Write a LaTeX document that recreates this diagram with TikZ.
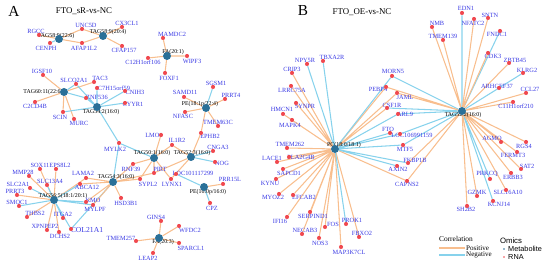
\documentclass[tikz,border=0pt]{standalone}
\usepackage{fontspec}
\setmainfont{Liberation Serif}
\newfontfamily\legendsans{Liberation Sans}
\usetikzlibrary{backgrounds}
\definecolor{poscol}{RGB}{248,190,142}
\definecolor{negcol}{RGB}{135,210,236}
\definecolor{rnacol}{RGB}{240,72,78}
\definecolor{metcol}{RGB}{42,112,152}
\definecolor{labcol}{RGB}{58,58,228}
% one red gene dot with its label
\newcommand{\gene}[4]{\node[lab] (#1-t) at (#3) {#4}; \node[rna] (#1) at (#2) {};}
% one metabolite hub with its label
\newcommand{\hubnode}[4]{\node[hublab] (#1-t) at (#3) {#4}; \node[met] (#1) at (#2) {};}
\begin{document}
\begin{tikzpicture}[x=0.85pt, y=-0.85pt,
    rna/.style={circle, fill=rnacol, inner sep=0pt, minimum size=3.5pt},
    met/.style={circle, fill=metcol, inner sep=0pt, minimum size=6.8pt},
    lab/.style={text=labcol, inner sep=0pt, font=\fontsize{5.4}{5.5}\selectfont},
    hublab/.style={text=black, inner sep=0pt, font=\fontsize{5}{5}\selectfont},
    poscor/.style={draw=poscol, line width=0.9pt},
    negcor/.style={draw=negcol, line width=0.9pt},
    ttl/.style={inner sep=0pt, font=\fontsize{7.5}{8}\selectfont}]
    \useasboundingbox (0,0) rectangle (550,267);
    % panel A
    \node[inner sep=0pt, font=\fontsize{13}{13}\selectfont] (pA) at (14,11) {A};
    \node[ttl] (tA) at (84,11) {FTO\_sR-vs-NC};
    \hubnode{h1}{59,39}{56,36}{TAG58:9(22:6)}
    \hubnode{h2}{103,36}{108,32}{TAG58:9(20:4)}
    \hubnode{h3}{167,56}{173,52}{FA(20:1)}
    \hubnode{h4}{64,92}{43,92}{TAG60:11(22:6)}
    \hubnode{h5}{97,107}{101,112}{TAG54:2(16:0)}
    \hubnode{h6}{206,108}{200,104}{PE(18:1p/22:4)}
    \hubnode{h7}{154,158}{152,153}{TAG50:1(16:0)}
    \hubnode{h8}{191,157}{192,153}{TAG52:3(16:0)}
    \hubnode{h9}{113,182}{116,177}{TAG54:3(16:0)}
    \hubnode{h10}{54,200}{63,196}{TAG56:5(18:1/20:1)}
    \hubnode{h11}{204,187}{208,192}{PE(16:0p/16:0)}
    \hubnode{h12}{159,238}{163,242}{FA(20:3)}
    \gene{rgcc}{39,35}{36,31}{RGCC}
    \gene{unc5d}{82,29}{86,25}{UNC5D}
    \gene{cx3cl}{122,27}{127,23}{CX3CL1}
    \gene{cenph}{50,43}{46,48}{CENPH}
    \gene{afap}{82,43}{84,48}{AFAP1L2}
    \gene{cfap}{122,46}{124,50}{CFAP157}
    \gene{mamdc}{163,38}{172,34}{MAMDC2}
    \gene{wipf}{187,56}{192,61}{WIPF3}
    \gene{c12h}{148,58}{143,62}{C12H1orf106}
    \gene{foxf}{165,73}{169,78}{FOXF1}
    \gene{igsf}{43,75}{42,71}{IGSF10}
    \gene{slco}{76,84}{74,80}{SLCO2A1}
    \gene{tac}{94,82}{100,78}{TAC3}
    \gene{c7h}{97,88}{114,88}{C7H15orf59}
    \gene{znf}{86,98}{97,97}{ZNF536}
    \gene{cnih}{125,91}{135,92}{CNIH3}
    \gene{cyyr}{125,103}{133,104}{CYYR1}
    \gene{c2cd}{35,102}{35,106}{C2CD4B}
    \gene{scin}{63,112}{60,117}{SCIN}
    \gene{murc}{74,119}{79,123}{MURC}
    \gene{mylk}{119,143}{115,149}{MYLK2}
    \gene{sgsm}{213,87}{216,83}{SGSM1}
    \gene{samd}{184,97}{185,92}{SAMD11}
    \gene{prrtf}{225,99}{231,95}{PRRT4}
    \gene{nfasc}{185,112}{183,116}{NFASC}
    \gene{tmemsc}{218,126}{218,122}{TMEM63C}
    \gene{ephb}{201,133}{210,136}{EPHB2}
    \gene{lmo}{161,135}{154,135}{LMO1}
    \gene{ilr}{172,145}{177,140}{IL1R2}
    \gene{cnga}{213,151}{218,147}{CNGA3}
    \gene{nog}{215,162}{222,163}{NOG}
    \gene{rnf}{133,164}{131,169}{RNF39}
    \gene{pirt}{154,173}{160,169}{PIRT}
    \gene{loca}{176,174}{193,173}{LOC101117299}
    \gene{sypl}{140,179}{148,184}{SYPL2}
    \gene{lynx}{171,179}{172,184}{LYNX1}
    \gene{prrl}{223,184}{230,179}{PRR15L}
    \gene{cpz}{210,203}{212,208}{CPZ}
    \gene{sox}{40,169}{40,165}{SOX11}
    \gene{eps}{56,169}{60,165}{EPS8L2}
    \gene{mmp}{29,176}{23,172}{MMP28}
    \gene{lama}{86,178}{83,173}{LAMA2}
    \gene{slcf}{47,185}{50,181}{SLC13A4}
    \gene{slct}{30,188}{18,184}{SLC2A1}
    \gene{abca}{80,184}{87,187}{ABCA12}
    \gene{prrtt}{17,195}{15,191}{PRRT3}
    \gene{smoc}{19,206}{17,202}{SMOC1}
    \gene{kmo}{86,202}{93,200}{KMO}
    \gene{mylpf}{93,205}{95,209}{MYLPF}
    \gene{hsd}{121,198}{126,203}{HSD3B1}
    \gene{thbs}{27,217}{35,213}{THBS2}
    \gene{itga}{63,218}{63,214}{ITGA2}
    \gene{xpn}{47,230}{45,226}{XPNPEP2}
    \gene{dchs}{59,232}{60,236}{DCHS2}
    \node[lab, font=\fontsize{6.5}{7}\selectfont] (col-t) at (87,230) {COL21A1};
    \node[rna] (col) at (71,229) {};
    \gene{tmemtfs}{136,241}{121,238}{TMEM257}
    \gene{gins}{161,221}{156,217}{GINS4}
    \gene{wfdc}{179,226}{190,230}{WFDC2}
    \gene{sparc}{179,243}{191,248}{SPARCL1}
    \gene{leap}{153,253}{148,258}{LEAP2}
    % panel B
    \node[inner sep=0pt, font=\fontsize{13}{13}\selectfont] (pB) at (303,11) {B};
    \node[ttl] (tB) at (362,12) {FTO\_OE-vs-NC};
    \hubnode{k1}{335,149}{344,145}{PC(18:0/18:1)}
    \hubnode{k2}{462,111}{463,115}{TAG52:2(16:0)}
    \gene{npy}{307,64}{305,60}{NPY5R}
    \gene{tbxa}{323,61}{332,57}{TBXA2R}
    \gene{crip}{292,73}{292,69}{CRIP3}
    \gene{lrrc}{291,86}{292,90}{LRRC75A}
    \gene{synpr}{296,103}{305,106}{SYNPR}
    \gene{hmcn}{283,114}{282,109}{HMCN1}
    \gene{mapk}{292,120}{290,125}{MAPK4}
    \gene{tmemtst}{287,148}{290,144}{TMEM262}
    \gene{pla}{289,157}{301,157}{PLA2G4B}
    \gene{lace}{277,162}{272,158}{LACE1}
    \gene{sapcd}{283,169}{289,173}{SAPCD1}
    \gene{kynu}{276,179}{270,183}{KYNU}
    \gene{myoz}{279,194}{273,197}{MYOZ2}
    \gene{efcab}{293,195}{304,197}{EFCAB2}
    \gene{ifi}{287,217}{280,221}{IFI16}
    \gene{serp}{310,212}{313,216}{SERPIND1}
    \gene{fos}{325,227}{333,224}{FOS}
    \gene{necab}{302,234}{305,230}{NECAB3}
    \gene{nos}{319,238}{320,243}{NOS3}
    \gene{prok}{346,224}{352,220}{PROK1}
    \gene{fbxo}{359,237}{362,233}{FBXO2}
    \gene{mapsk}{341,247}{349,252}{MAP3K7CL}
    \gene{morn}{392,76}{393,71}{MORN5}
    \gene{pebp}{386,87}{378,89}{PEBP4}
    \gene{jaml}{397,93}{405,97}{JAML}
    \gene{csf}{387,108}{392,105}{CSF1R}
    \gene{arl}{398,114}{405,114}{ARL9}
    \gene{fto}{390,133}{388,129}{FTO}
    \gene{locb}{400,134}{412,135}{LOC106991159}
    \gene{mtf}{403,145}{405,149}{MTF5}
    \gene{fkbp}{408,163}{415,160}{FKBP1B}
    \gene{axin}{397,166}{398,169}{AXIN2}
    \gene{capns}{407,181}{407,184}{CAPNS2}
    \gene{edn}{462,13}{466,8}{EDN1}
    \gene{nmb}{432,27}{437,23}{NMB}
    \gene{nfat}{474,19}{473,23}{NFATC2}
    \gene{sntn}{488,18}{490,15}{SNTN}
    \gene{tmemot}{443,40}{443,36}{TMEM139}
    \gene{fndc}{500,31}{497,34}{FNDC1}
    \gene{cdk}{488,53}{493,56}{CDK3}
    \gene{zbtb}{509,63}{515,60}{ZBTB45}
    \gene{klrg}{523,73}{527,70}{KLRG2}
    \gene{arhg}{499,88}{497,86}{ARHGEF37}
    \gene{ccl}{526,93}{530,89}{CCL27}
    \gene{cele}{513,102}{516,106}{C11H1orf210}
    \gene{agmo}{501,142}{492,138}{AGMO}
    \gene{rgs}{526,142}{524,146}{RGS4}
    \gene{fermt}{517,152}{513,155}{FERMT3}
    \gene{sat}{521,169}{527,166}{SAT2}
    \gene{erbb}{511,173}{513,177}{ERBB3}
    \gene{prkcq}{490,179}{487,174}{PRKCQ}
    \gene{slcs}{506,190}{508,192}{SLC16A10}
    \gene{gzmk}{477,196}{477,192}{GZMK}
    \gene{kcnj}{493,201}{499,204}{KCNJ14}
    \gene{shb}{467,206}{466,209}{SH2B2}
    % legend
    \node[ttl, font=\fontsize{6.3}{7}\selectfont] (lcor) at (456,239) {Correlation};
    \coordinate (lp1) at (439,248);
    \coordinate (lp2) at (465,248);
    \coordinate (ln1) at (439,255);
    \coordinate (ln2) at (465,255);
    \draw[poscor] (lp1) -- (lp2);
    \draw[negcor] (ln1) -- (ln2);
    \node[ttl, anchor=west, font=\fontsize{6}{7}\selectfont] (lpos) at (466,248) {Positive};
    \node[ttl, anchor=west, font=\fontsize{6}{7}\selectfont] (lneg) at (466,255) {Negative};
    \node[ttl, font=\legendsans\fontsize{6.6}{7}\selectfont] (lom) at (511,241) {Omics};
    \node[circle, fill=metcol, inner sep=0pt, minimum size=1.6pt] (lmd) at (504,249) {};
    \node[circle, fill=rnacol, inner sep=0pt, minimum size=1.6pt] (lrd) at (504,257) {};
    \node[ttl, anchor=west, font=\legendsans\fontsize{6.2}{7}\selectfont] (lmet) at (508,248.5) {Metabolite};
    \node[ttl, anchor=west, font=\legendsans\fontsize{6.2}{7}\selectfont] (lrna) at (508,257) {RNA};
    % correlations
    \begin{scope}[on background layer]
        \draw[poscor] (h1)--(rgcc) (h1)--(unc5d) (h1)--(afap);
        \draw[negcor] (h1)--(cenph);
        \draw[poscor] (h2)--(unc5d) (h2)--(cx3cl) (h2)--(afap) (h2)--(cfap);
        \draw[poscor] (h3)--(mamdc) (h3)--(wipf) (h3)--(c12h) (h3)--(foxf);
        \draw[poscor] (h4)--(igsf) (h4)--(c2cd) (h4)--(scin) (h4)--(murc) (h4)--(tac);
        \draw[negcor] (h4)--(slco) (h4)--(znf);
        \draw[negcor] (h5)--(slco) (h5)--(c7h) (h5)--(znf) (h5)--(cnih) (h5)--(cyyr) (h5)--(scin) (h5)--(mylk);
        \draw[negcor] (h6)--(sgsm);
        \draw[poscor] (h6)--(samd) (h6)--(prrtf) (h6)--(nfasc) (h6)--(tmemsc) (h6)--(ephb);
        \draw[poscor] (h7)--(lmo) (h7)--(ilr) (h7)--(rnf) (h7)--(pirt) (h7)--(sypl) (h7)--(lynx);
        \draw[negcor] (h7)--(mylk);
        \draw[poscor] (h8)--(ephb) (h8)--(ilr) (h8)--(lynx) (h8)--(pirt);
        \draw[negcor] (h8)--(cnga) (h8)--(nog);
        \draw[negcor] (h9)--(mylk) (h9)--(col);
        \draw[poscor] (h9)--(rnf) (h9)--(sypl) (h9)--(pirt) (h9)--(lama) (h9)--(abca) (h9)--(kmo) (h9)--(mylpf) (h9)--(hsd);
        \draw[poscor] (h10)--(sox) (h10)--(eps) (h10)--(mmp) (h10)--(prrtt) (h10)--(thbs) (h10)--(xpn) (h10)--(dchs) (h10)--(lama);
        \draw[negcor] (h10)--(slcf) (h10)--(slct) (h10)--(smoc) (h10)--(itga) (h10)--(col) (h10)--(kmo) (h10)--(mylpf) (h10)--(abca);
        \draw[negcor] (h11)--(loca) (h11)--(cpz);
        \draw[poscor] (h11)--(prrl);
        \draw[poscor] (h12)--(gins) (h12)--(wfdc) (h12)--(tmemtfs) (h12)--(sparc) (h12)--(leap);
        \draw[poscor] (k1)--(crip) (k1)--(lrrc) (k1)--(synpr) (k1)--(hmcn) (k1)--(mapk) (k1)--(tmemtst) (k1)--(pla) (k1)--(lace) (k1)--(sapcd) (k1)--(kynu) (k1)--(myoz) (k1)--(efcab);
        \draw[poscor] (k1)--(ifi) (k1)--(serp) (k1)--(necab) (k1)--(nos) (k1)--(fos) (k1)--(mapsk) (k1)--(fbxo) (k1)--(pebp) (k1)--(jaml) (k1)--(csf) (k1)--(capns);
        \draw[negcor] (k1)--(npy) (k1)--(tbxa) (k1)--(prok) (k1)--(morn) (k1)--(arl) (k1)--(fto) (k1)--(locb) (k1)--(mtf) (k1)--(axin) (k1)--(fkbp);
        \draw[negcor] (k2)--(edn) (k2)--(fndc) (k2)--(klrg) (k2)--(arhg) (k2)--(morn) (k2)--(csf) (k2)--(arl) (k2)--(locb) (k2)--(mtf) (k2)--(prkcq) (k2)--(kcnj);
        \draw[poscor] (k2)--(nmb) (k2)--(tmemot) (k2)--(nfat) (k2)--(sntn) (k2)--(cdk) (k2)--(zbtb) (k2)--(ccl) (k2)--(cele) (k2)--(pebp) (k2)--(jaml) (k2)--(fkbp) (k2)--(capns);
        \draw[poscor] (k2)--(agmo) (k2)--(rgs) (k2)--(fermt) (k2)--(sat) (k2)--(erbb) (k2)--(slcs) (k2)--(gzmk) (k2)--(shb);
    \end{scope}
\end{tikzpicture}
\end{document}
